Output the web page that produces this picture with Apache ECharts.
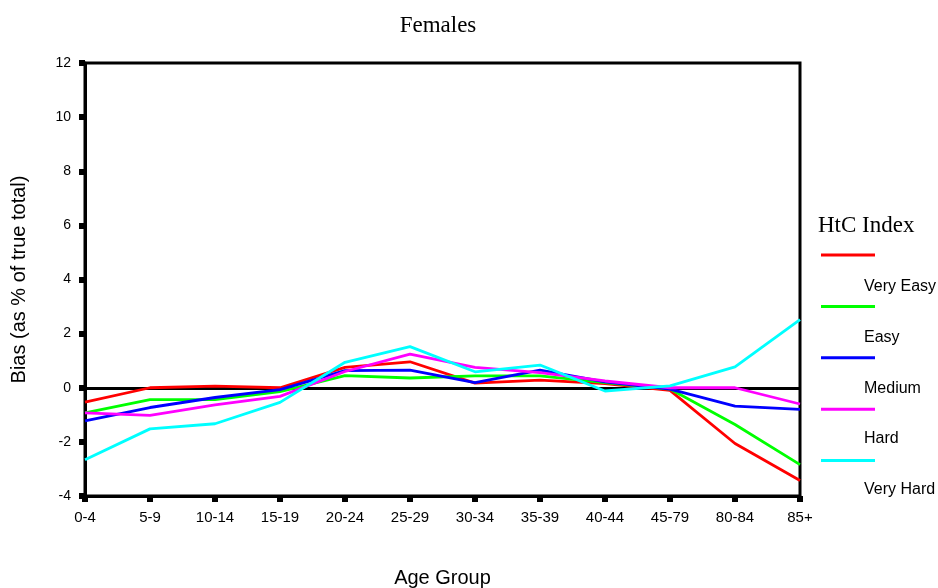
<!DOCTYPE html>
<html><head><meta charset="utf-8">
<script src="https://cdn.jsdelivr.net/npm/echarts@6/dist/echarts.min.js"></script>
<style>html,body{margin:0;padding:0;background:#fff}#c{width:938px;height:588px}</style>
</head><body><div id="c"></div>
<script>
const categories = ['0-4','5-9','10-14','15-19','20-24','25-29','30-34','35-39','40-44','45-79','80-84','85+'];
const seriesNames = ['Very Easy','Easy','Medium','Hard','Very Hard'];
const veryEasy = [-0.53, 0.0, 0.06, 0.0, 0.75, 0.96, 0.17, 0.28, 0.15, -0.1, -2.06, -3.43];
const easy     = [-0.93, -0.44, -0.44, -0.14, 0.45, 0.36, 0.44, 0.44, 0.19, -0.05, -1.36, -2.84];
const medium   = [-1.22, -0.73, -0.36, -0.07, 0.63, 0.65, 0.19, 0.65, 0.22, -0.05, -0.68, -0.8];
const hard     = [-0.93, -1.02, -0.63, -0.32, 0.6, 1.24, 0.75, 0.56, 0.25, 0.0, 0.0, -0.6];
const veryHard = [-2.66, -1.52, -1.33, -0.54, 0.94, 1.52, 0.59, 0.84, -0.12, 0.07, 0.77, 2.52];
const yTicks = {min: -4, max: 12, interval: 2};
const colors = ['#ff0000','#00ff00','#0000ff','#ff00ff','#00ffff'];
const allData = [veryEasy, easy, medium, hard, veryHard];

const series = seriesNames.map((n, i) => ({
  name: n, type: 'line', data: allData[i], symbol: 'none',
  lineStyle: {color: colors[i], width: 2.8}, itemStyle: {color: colors[i]},
  z: 3 + i,
  markLine: i === 0 ? {silent: true, symbol: 'none', label: {show: false},
    lineStyle: {color: '#000', width: 2.8, type: 'solid'}, data: [{yAxis: 0}], z: 2} : undefined
}));

const chart = echarts.init(document.getElementById('c'), null, {renderer: 'canvas'});
chart.setOption({
  animation: false,
  backgroundColor: '#fff',
  title: [
    {text: 'Females', left: 433, top: 9, textAlign: 'center',
     textStyle: {fontFamily: 'Liberation Serif', fontWeight: 'normal', fontSize: 23, color: '#000'}},
    {text: 'HtC Index', left: 813, top: 209,
     textStyle: {fontFamily: 'Liberation Serif', fontWeight: 'normal', fontSize: 23, color: '#000'}}
  ],
  grid: {left: 85, right: 138, top: 63, bottom: 92, show: true, borderColor: '#000', borderWidth: 3,
         containLabel: false, outerBoundsMode: 'none'},
  legend: [
    {orient: 'vertical', left: 816, top: 243, itemWidth: 54, itemHeight: 14, itemGap: 37.4,
     data: seriesNames, formatter: () => ' ', textStyle: {fontSize: 14},
     icon: 'path://M0,0L54,0L54,3L0,3Z'},
    {orient: 'vertical', left: 844, top: 273, itemWidth: 10, itemHeight: 18, itemGap: 33.6,
     data: seriesNames.map(n => ({name: n, icon: 'none'})),
     textStyle: {fontFamily: 'Liberation Sans', fontSize: 16, color: '#000'}}
  ],
  xAxis: {
    type: 'category', data: categories, boundaryGap: false,
    name: 'Age Group', nameLocation: 'middle', nameGap: 72,
    nameTextStyle: {fontFamily: 'Liberation Sans', fontSize: 20, color: '#000'},
    axisLine: {onZero: false, lineStyle: {color: '#000', width: 3}},
    axisTick: {show: true, alignWithLabel: true, length: 6, lineStyle: {color: '#000', width: 6}},
    axisLabel: {fontFamily: 'Liberation Sans', fontSize: 15, color: '#000', margin: 14, interval: 0},
    splitLine: {show: false}
  },
  yAxis: {
    type: 'value', min: yTicks.min, max: yTicks.max, interval: yTicks.interval,
    name: 'Bias (as % of true total)', nameLocation: 'middle', nameGap: 56,
    nameTextStyle: {fontFamily: 'Liberation Sans', fontSize: 20, color: '#000'},
    axisLine: {show: true, onZero: false, lineStyle: {color: '#000', width: 3}},
    axisTick: {show: true, length: 6, lineStyle: {color: '#000', width: 6}},
    axisLabel: {fontFamily: 'Liberation Sans', fontSize: 14, color: '#000', margin: 14},
    splitLine: {show: false}
  },
  series: series
});
</script></body></html>
